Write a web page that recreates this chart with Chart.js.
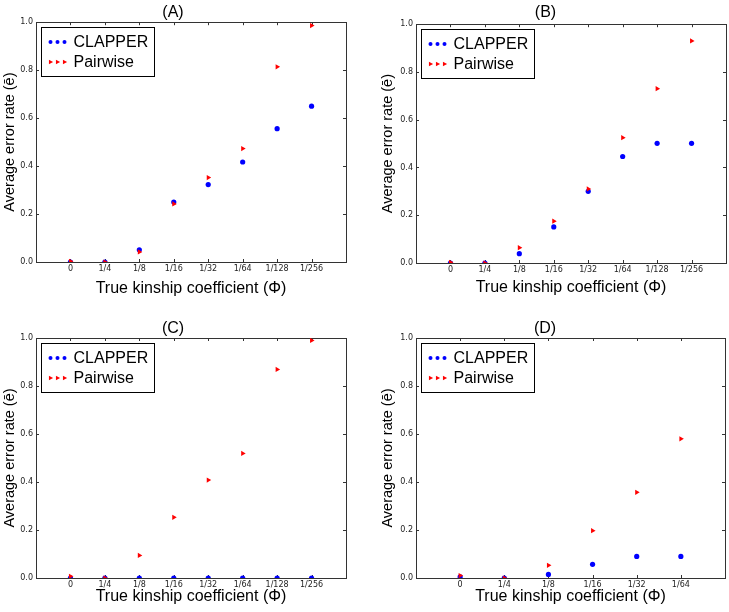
<!DOCTYPE html>
<html>
<head>
<meta charset="utf-8">
<script src="https://cdn.jsdelivr.net/npm/chart.js@4.4.1/dist/chart.umd.min.js"></script>
<style>
    body { margin: 0; background: #fff; }
    #wrap { position: relative; width: 729px; height: 612px; overflow: hidden; background: #fff; }
    canvas { position: absolute; }
</style>
</head>
<body>
<div id="wrap">
    <canvas id="chartA" width="365" height="300" style="left:0;top:0"></canvas>
    <canvas id="chartB" width="364" height="300" style="left:365px;top:0"></canvas>
    <canvas id="chartC" width="365" height="312" style="left:0;top:300px"></canvas>
    <canvas id="chartD" width="364" height="312" style="left:365px;top:300px"></canvas>
</div>
<script>
const kinshipLabels = ["0", "1/4", "1/8", "1/16", "1/32", "1/64", "1/128", "1/256"];
const kinshipLabelsD = ["0", "1/4", "1/8", "1/16", "1/32", "1/64"];
const yTicks = [0, 0.2, 0.4, 0.6, 0.8, 1.0];
const seriesNames = ["CLAPPER", "Pairwise"];

const clapperA = [0.0, 0.0, 0.051, 0.25, 0.323, 0.417, 0.556, 0.65];
const pairwiseA = [0.003, 0.0, 0.042, 0.242, 0.352, 0.473, 0.814, 0.986];
const clapperB = [0.0, 0.0, 0.039, 0.151, 0.30, 0.446, 0.501, 0.501];
const pairwiseB = [0.003, 0.0, 0.064, 0.175, 0.31, 0.525, 0.73, 0.93];
const clapperC = [0.0, 0.0, 0.0, 0.0, 0.0, 0.0, 0.0, 0.0];
const pairwiseC = [0.007, 0.0, 0.094, 0.253, 0.408, 0.519, 0.869, 0.99];
const clapperD = [0.005, 0.0, 0.015, 0.057, 0.09, 0.09];
const pairwiseD = [0.01, 0.0, 0.053, 0.197, 0.357, 0.58];

const BLUE = "#0000ff";
const RED = "#ff0000";
const AXIS = "#333333";

// matplotlib-like frame with inward ticks on all four sides
const frameTicks = {
    id: "frameTicks",
    beforeDatasetsDraw(chart) {
        const { ctx, chartArea: a, scales } = chart;
        const len = 3;
        ctx.save();
        ctx.strokeStyle = AXIS;
        ctx.lineWidth = 1;
        ctx.beginPath();
        scales.x.ticks.forEach((t) => {
            const px = Math.round(scales.x.getPixelForValue(t.value)) + 0.5;
            ctx.moveTo(px, a.bottom); ctx.lineTo(px, a.bottom - len);
            ctx.moveTo(px, a.top); ctx.lineTo(px, a.top + len);
        });
        scales.y.ticks.forEach((t) => {
            const py = Math.round(scales.y.getPixelForValue(t.value)) + 0.5;
            ctx.moveTo(a.left, py); ctx.lineTo(a.left + len, py);
            ctx.moveTo(a.right, py); ctx.lineTo(a.right - len, py);
        });
        ctx.stroke();
        ctx.strokeRect(Math.round(a.left) + 0.5, Math.round(a.top) + 0.5,
            Math.round(a.right - a.left), Math.round(a.bottom - a.top));
        ctx.restore();
    }
};

function drawMarker(ctx, style, x, y, r, color) {
    ctx.fillStyle = color;
    ctx.beginPath();
    if (style === "circle") {
        ctx.arc(x, y, r, 0, Math.PI * 2);
    } else {
        ctx.moveTo(x + r, y);
        ctx.lineTo(x - r * 0.6, y - r * 0.85);
        ctx.lineTo(x - r * 0.6, y + r * 0.85);
        ctx.closePath();
    }
    ctx.fill();
}

// boxed legend in the upper left, three markers per entry
const boxLegend = {
    id: "boxLegend",
    afterDatasetsDraw(chart) {
        const { ctx, chartArea: a } = chart;
        const bx = Math.round(a.left) + 5.5, by = Math.round(a.top) + 5.5;
        ctx.save();
        ctx.fillStyle = "#fff";
        ctx.strokeStyle = "#000";
        ctx.lineWidth = 1;
        ctx.fillRect(bx, by, 113, 49);
        ctx.strokeRect(bx, by, 113, 49);
        const rows = [
            { name: seriesNames[0], style: "circle", color: BLUE, dy: 14.5 },
            { name: seriesNames[1], style: "triangle", color: RED, dy: 34.5 },
        ];
        ctx.font = "16px 'Liberation Sans', Arial, sans-serif";
        ctx.textBaseline = "middle";
        rows.forEach((row) => {
            [9, 16, 23].forEach((dx) => {
                drawMarker(ctx, row.style, bx + dx, by + row.dy, row.style === "circle" ? 2 : 2.6, row.color);
            });
            ctx.fillStyle = "#000";
            ctx.fillText(row.name, bx + 32, by + row.dy + 1);
        });
        ctx.restore();
    }
};

function makePanel(id, title, labels, clapper, pairwise, lay) {
    const ctx = document.getElementById(id).getContext("2d");
    new Chart(ctx, {
        type: "scatter",
        data: {
            datasets: [
                {
                    label: seriesNames[0],
                    data: clapper.map((v, i) => ({ x: i, y: v })),
                    backgroundColor: BLUE,
                    borderColor: BLUE,
                    borderWidth: 0,
                    pointStyle: "circle",
                    pointRadius: 2.6,
                    order: 2,
                },
                {
                    label: seriesNames[1],
                    data: pairwise.map((v, i) => ({ x: i, y: v })),
                    backgroundColor: RED,
                    borderColor: RED,
                    borderWidth: 0,
                    pointStyle: "triangle",
                    rotation: 90,
                    pointRadius: 3,
                    order: 1,
                },
            ],
        },
        options: {
            responsive: false,
            animation: false,
            layout: { autoPadding: false, padding: { left: 0, right: lay.padRight, top: 0, bottom: 0 } },
            scales: {
                x: {
                    type: "linear",
                    min: -1,
                    max: labels.length,
                    afterBuildTicks: (scale) => {
                        scale.ticks = labels.map((_, i) => ({ value: i }));
                    },
                    afterFit: (scale) => { scale.height = lay.xHeight; },
                    grid: { display: false, drawTicks: false, tickLength: 0 },
                    border: { display: false },
                    ticks: {
                        maxRotation: 0,
                        autoSkip: false,
                        padding: 2,
                        color: "#222",
                        font: { family: "'DejaVu Sans'", size: 8 },
                        callback: (v) => labels[v],
                    },
                    title: {
                        display: true,
                        text: "True kinship coefficient (Φ)",
                        color: "#000",
                        font: { family: "'Liberation Sans', Arial", size: 16 },
                        padding: { top: 0, bottom: lay.xTitlePad },
                    },
                },
                y: {
                    min: 0,
                    max: 1,
                    afterBuildTicks: (scale) => {
                        scale.ticks = yTicks.map((v) => ({ value: v }));
                    },
                    afterFit: (scale) => { scale.width = lay.yWidth; },
                    grid: { display: false, drawTicks: false, tickLength: 0 },
                    border: { display: false },
                    ticks: {
                        padding: 3,
                        color: "#222",
                        font: { family: "'DejaVu Sans'", size: 8 },
                        callback: (v) => v.toFixed(1),
                    },
                    title: {
                        display: true,
                        text: "Average error rate (ē)",
                        color: "#000",
                        font: { family: "'Liberation Sans', Arial", size: 14.5 },
                        padding: { top: lay.yTitlePad, bottom: 0 },
                    },
                },
            },
            plugins: {
                legend: { display: false },
                tooltip: { enabled: false },
                title: {
                    display: true,
                    text: title,
                    color: "#000",
                    font: { family: "'Liberation Sans', Arial", size: 16, weight: "normal" },
                    padding: { top: lay.titleTop, bottom: lay.titleBottom },
                },
            },
        },
        plugins: [frameTicks, boxLegend],
    });
}

makePanel("chartA", "(A)", kinshipLabels, clapperA, pairwiseA,
    { yWidth: 36, padRight: 19, titleTop: 2.5, titleBottom: 0.5, xHeight: 38, xTitlePad: 1.4, yTitlePad: 1 });
makePanel("chartB", "(B)", kinshipLabels, clapperB, pairwiseB,
    { yWidth: 51, padRight: 3, titleTop: 3, titleBottom: 2, xHeight: 37, xTitlePad: 2.4, yTitlePad: 13.8 });
makePanel("chartC", "(C)", kinshipLabels, clapperC, pairwiseC,
    { yWidth: 36, padRight: 19, titleTop: 18.8, titleBottom: 0, xHeight: 34, xTitlePad: 5.4, yTitlePad: 1 });
makePanel("chartD", "(D)", kinshipLabelsD, clapperD, pairwiseD,
    { yWidth: 51, padRight: 4, titleTop: 18.8, titleBottom: 0, xHeight: 34, xTitlePad: 5.4, yTitlePad: 13.8 });
</script>
</body>
</html>
